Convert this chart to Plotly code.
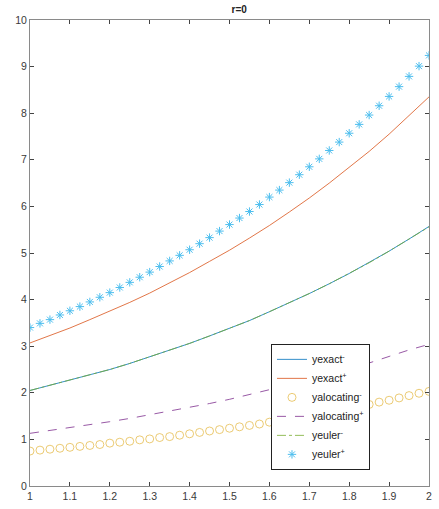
import plotly.graph_objects as go

# Sample grids
x_fine = [1 + 0.025 * k for k in range(41)]
x_line = [1 + 0.05 * k for k in range(21)]

# Curves drawn as lines (step 0.05)
yexact_minus = [2.05, 2.16, 2.27, 2.38, 2.50, 2.63, 2.77, 2.91, 3.06, 3.22, 3.38,
                3.55, 3.74, 3.93, 4.13, 4.34, 4.56, 4.80, 5.04, 5.30, 5.57]
yexact_plus = [3.07, 3.23, 3.39, 3.57, 3.75, 3.94, 4.14, 4.36, 4.58, 4.82, 5.06,
               5.32, 5.59, 5.88, 6.18, 6.50, 6.83, 7.18, 7.55, 7.94, 8.35]
yalocating_plus = [1.13, 1.19, 1.25, 1.31, 1.38, 1.45, 1.53, 1.60, 1.69, 1.77, 1.86,
                   1.96, 2.06, 2.17, 2.28, 2.39, 2.52, 2.64, 2.78, 2.92, 3.04]
yeuler_minus = [2.05, 2.16, 2.27, 2.38, 2.50, 2.63, 2.77, 2.91, 3.06, 3.22, 3.38,
                3.55, 3.74, 3.93, 4.13, 4.34, 4.56, 4.79, 5.04, 5.30, 5.56]

# Curves drawn as markers (step 0.025)
yalocating_minus = [0.75, 0.77, 0.79, 0.81, 0.83, 0.85, 0.87, 0.89, 0.92, 0.94, 0.96,
                    0.99, 1.01, 1.04, 1.06, 1.09, 1.12, 1.15, 1.18, 1.21, 1.24,
                    1.27, 1.30, 1.33, 1.37, 1.40, 1.44, 1.47, 1.51, 1.55, 1.59,
                    1.63, 1.67, 1.71, 1.75, 1.80, 1.84, 1.89, 1.94, 1.99, 2.03]
yeuler_plus = [3.40, 3.49, 3.57, 3.67, 3.76, 3.85, 3.95, 4.05, 4.15, 4.26, 4.37,
               4.48, 4.59, 4.71, 4.83, 4.95, 5.07, 5.20, 5.33, 5.47, 5.61,
               5.75, 5.89, 6.04, 6.20, 6.35, 6.51, 6.68, 6.85, 7.02, 7.20,
               7.38, 7.57, 7.76, 7.96, 8.16, 8.36, 8.57, 8.79, 9.01, 9.24]

x_ticks = [1, 1.1, 1.2, 1.3, 1.4, 1.5, 1.6, 1.7, 1.8, 1.9, 2]
x_tick_text = ["1", "1.1", "1.2", "1.3", "1.4", "1.5", "1.6", "1.7", "1.8", "1.9", "2"]
y_ticks = list(range(0, 11))

fig = go.Figure()
fig.add_trace(go.Scatter(x=x_line, y=yexact_minus, mode="lines", name="yexact<sup>-</sup>",
                         line=dict(color="#0072BD", width=0.8)))
fig.add_trace(go.Scatter(x=x_line, y=yexact_plus, mode="lines", name="yexact<sup>+</sup>",
                         line=dict(color="#D95319", width=0.8)))
fig.add_trace(go.Scatter(x=x_fine, y=yalocating_minus, mode="markers", name="yalocating<sup>-</sup>",
                         marker=dict(symbol="circle-open", size=8, color="#E3B53A",
                                     line=dict(width=0.7))))
fig.add_trace(go.Scatter(x=x_line, y=yalocating_plus, mode="lines", name="yalocating<sup>+</sup>",
                         line=dict(color="#7E2F8E", width=0.8, dash="dash")))
fig.add_trace(go.Scatter(x=x_line, y=yeuler_minus, mode="lines", name="yeuler<sup>-</sup>",
                         line=dict(color="#77AC30", width=0.8, dash="dashdot")))
fig.add_trace(go.Scatter(x=x_fine, y=yeuler_plus, mode="markers", name="yeuler<sup>+</sup>",
                         marker=dict(symbol="asterisk-open", size=7, color="#4DBEEE",
                                     line=dict(width=1, color="#48B4DE"))))

axis_common = dict(showgrid=False, zeroline=False, showline=True, linecolor="#8a8a8a",
                   linewidth=1, mirror="ticks", ticks="inside", ticklen=4,
                   tickcolor="#444444", tickfont=dict(family="Liberation Sans", size=10.5, color="#3a3a3a"))

fig.update_layout(
    width=439, height=509,
    margin=dict(l=30, r=7, t=20, b=21),
    paper_bgcolor="white", plot_bgcolor="white",
    title=dict(text="<b>r=0</b>", x=0.545, xanchor="center", y=0.988, yanchor="top",
               font=dict(family="Liberation Sans", size=10, color="#222222")),
    xaxis=dict(range=[1, 2], tickvals=x_ticks, ticktext=x_tick_text, **axis_common),
    yaxis=dict(range=[0, 10], tickvals=y_ticks, **axis_common),
    legend=dict(x=0.604, y=0.305, xanchor="left", yanchor="top",
                bgcolor="white", bordercolor="#222222", borderwidth=1,
                font=dict(family="Liberation Sans", size=10.5, color="#222222"),
                itemwidth=30, tracegroupgap=0),
    showlegend=True,
)

fig.write_html("out.html")
